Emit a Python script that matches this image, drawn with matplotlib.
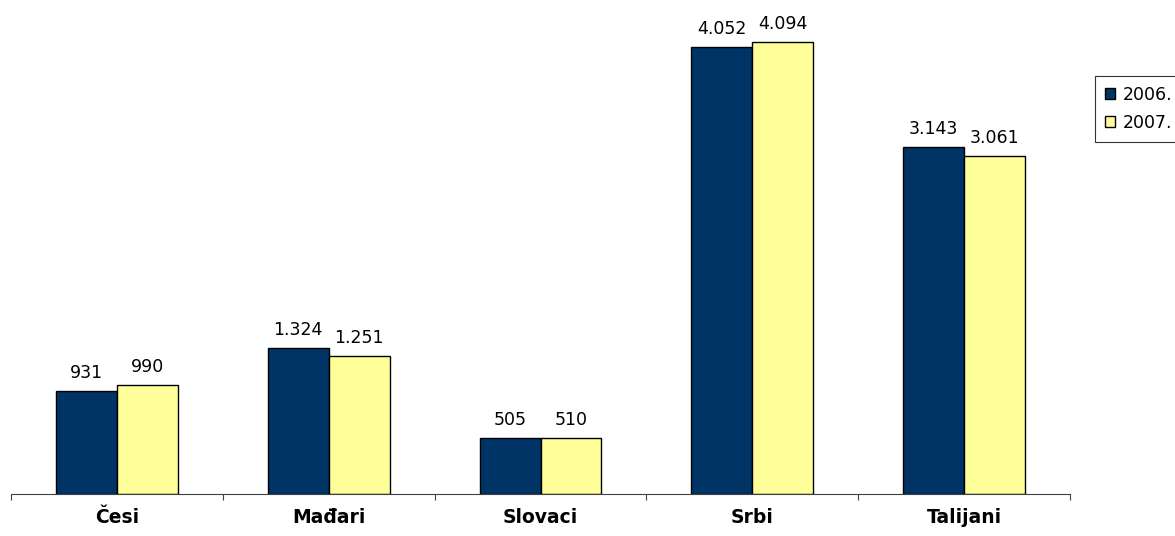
import matplotlib
matplotlib.use("Agg")
import matplotlib.pyplot as plt
import numpy as np

categories = ["Česi", "Mađari", "Slovaci", "Srbi", "Talijani"]
series_names = ["2006.", "2007."]
values_2006 = [931, 1324, 505, 4052, 3143]
values_2007 = [990, 1251, 510, 4094, 3061]
labels_2006 = ["931", "1.324", "505", "4.052", "3.143"]
labels_2007 = ["990", "1.251", "510", "4.094", "3.061"]

colors = ["#003366", "#FFFF99"]

W, H = 1175, 536
fig = plt.figure(figsize=(W / 100, H / 100), dpi=100)
ax = fig.add_axes([11 / W, (H - 494) / H, (1070 - 11) / W, 494 / H])

x = np.arange(len(categories))
bw = 0.288
b1 = ax.bar(x - bw / 2, values_2006, bw, color=colors[0], edgecolor="black", linewidth=1.0, label=series_names[0])
b2 = ax.bar(x + bw / 2, values_2007, bw, color=colors[1], edgecolor="black", linewidth=1.0, label=series_names[1])

for bars, labs in ((b1, labels_2006), (b2, labels_2007)):
    for r, t in zip(bars, labs):
        ax.annotate(t, (r.get_x() + r.get_width() / 2, r.get_height()),
                    xytext=(0, 6.5), textcoords="offset points",
                    ha="center", va="bottom", fontsize=12.5, family="DejaVu Sans")

ax.set_xlim(-0.5, len(categories) - 0.5)
ax.set_ylim(0, 4475)
for s in ("top", "right", "left"):
    ax.spines[s].set_visible(False)
ax.spines["bottom"].set_color("#404040")
ax.spines["bottom"].set_linewidth(0.8)
ax.set_yticks([])
ax.set_xticks(np.arange(len(categories) + 1) - 0.5)
ax.set_xticklabels([])
ax.tick_params(axis="x", direction="out", length=4, color="#404040", width=0.8)
ax.set_xticks(x, minor=True)
ax.set_xticklabels(categories, minor=True, fontsize=13.5, fontweight="bold")
ax.tick_params(axis="x", which="minor", length=0, pad=10)

leg = fig.legend(handles=[b1, b2], labels=series_names, loc="upper left",
                 bbox_to_anchor=(1095 / W, 1 - 76 / H), frameon=True, fancybox=False,
                 fontsize=12.5, handlelength=0.6, handleheight=0.6, handletextpad=0.45,
                 borderpad=0.55, labelspacing=0.6, borderaxespad=0)
leg.get_frame().set_edgecolor("black")
leg.get_frame().set_linewidth(0.8)

fig.savefig("out.png", dpi=100)
